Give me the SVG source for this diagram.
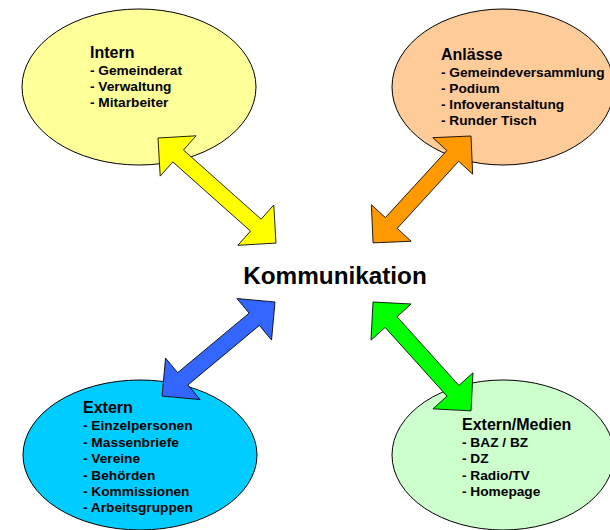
<svg xmlns="http://www.w3.org/2000/svg" width="610" height="530" viewBox="0 0 610 530">
<style>
.el{stroke:#000;stroke-width:1}
.ar{stroke:#000;stroke-width:0.8;stroke-linejoin:miter}
text{font-family:"Liberation Sans",Arial,sans-serif;font-weight:bold;fill:#000}
.t{font-size:16px}
.i{font-size:13.7px}
.k{font-size:24.3px}
</style>
<rect width="610" height="530" fill="#fff"/>
<g id="intern">
<ellipse class="el" cx="139" cy="87" rx="117" ry="78" fill="#FFFF99"/>
<text class="t" x="90" y="58">Intern</text>
<text class="i" x="90" y="75">- Gemeinderat</text>
<text class="i" x="90" y="91">- Verwaltung</text>
<text class="i" x="90" y="107">- Mitarbeiter</text>
</g>
<g id="anlaesse">
<ellipse class="el" cx="503" cy="87" rx="111" ry="78" fill="#FFCC99"/>
<text class="t" x="441" y="60">Anlässe</text>
<text class="i" x="441" y="77">- Gemeindeversammlung</text>
<text class="i" x="441" y="93">- Podium</text>
<text class="i" x="441" y="109">- Infoveranstaltung</text>
<text class="i" x="441" y="125">- Runder Tisch</text>
</g>
<g id="extern">
<ellipse class="el" cx="140" cy="455" rx="117" ry="75" fill="#00CCFF"/>
<text class="t" x="83" y="413">Extern</text>
<text class="i" x="83" y="430">- Einzelpersonen</text>
<text class="i" x="83" y="446.5">- Massenbriefe</text>
<text class="i" x="83" y="463">- Vereine</text>
<text class="i" x="83" y="479.5">- Behörden</text>
<text class="i" x="83" y="496">- Kommissionen</text>
<text class="i" x="83" y="512">- Arbeitsgruppen</text>
</g>
<g id="medien">
<ellipse class="el" cx="503" cy="455" rx="111" ry="75" fill="#CCFFCC"/>
<text class="t" x="462" y="430">Extern/Medien</text>
<text class="i" x="462" y="447">- BAZ / BZ</text>
<text class="i" x="462" y="463">- DZ</text>
<text class="i" x="462" y="479.5">- Radio/TV</text>
<text class="i" x="462" y="496">- Homepage</text>
</g>
<g id="kommunikation">
<text class="k" x="335" y="284" text-anchor="middle">Kommunikation</text>
</g>
<g id="connectors">
<polygon class="ar" fill="#FFFF00" transform="translate(158,138) rotate(41.7)" points="0,0 27,-27 27,-8 131,-8 131,-27 158,0 131,27 131,8 27,8 27,27"/>
<polygon class="ar" fill="#FF9900" transform="translate(471,136) rotate(132.5)" points="0,0 27,-27 27,-8 118,-8 118,-27 145,0 118,27 118,8 27,8 27,27"/>
<polygon class="ar" fill="#3366FF" transform="translate(275,302) rotate(140.2)" points="0,0 27,-27 27,-8 120,-8 120,-27 147,0 120,27 120,8 27,8 27,27"/>
<polygon class="ar" fill="#00FF00" transform="translate(373,302) rotate(48)" points="0,0 27,-27 27,-8 119.5,-8 119.5,-27 146.5,0 119.5,27 119.5,8 27,8 27,27"/>
</g>
</svg>
